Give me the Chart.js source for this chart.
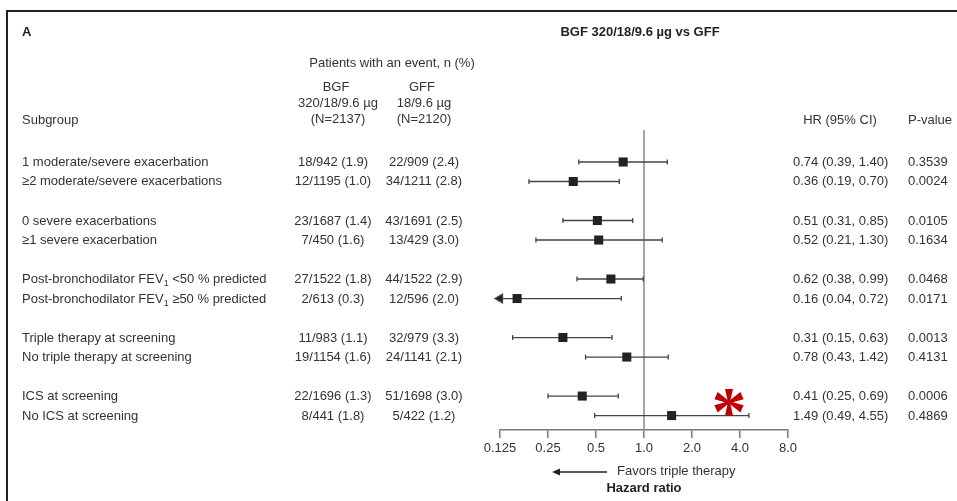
<!DOCTYPE html>
<html>
<head>
<meta charset="utf-8">
<script src="https://cdn.jsdelivr.net/npm/chart.js@4.4.0/dist/chart.umd.min.js"></script>
<style>
body { margin: 0; background: #fff; }
#wrap { position: relative; width: 957px; height: 501px; overflow: hidden; font-family: "Liberation Sans", Arial, sans-serif; font-size: 13px; color: #333; }
#frame { position: absolute; left: 6px; top: 10px; width: 960px; height: 500px; border-top: 2px solid #222; border-left: 2px solid #222; }
canvas { position: absolute; left: 0; top: 0; }
.t { position: absolute; white-space: nowrap; line-height: 16px; }
.c { transform: translateX(-50%); }
.b { font-weight: bold; color: #222; }
sub { font-size: 9px; vertical-align: -3px; line-height: 0; }
#star { position: absolute; font-family: "Liberation Serif", serif; font-weight: bold; font-size: 70px; line-height: 70px; color: #c00000; transform: translateX(-50%); }
</style>
</head>
<body>
<div id="wrap">
  <div id="frame"></div>
  <canvas id="myChart" width="957" height="501"></canvas>
</div>
<script>
const subgroups = [
    "1 moderate/severe exacerbation",
    "≥2 moderate/severe exacerbations",
    "0 severe exacerbations",
    "≥1 severe exacerbation",
    "Post-bronchodilator FEV<sub>1</sub> &lt;50 % predicted",
    "Post-bronchodilator FEV<sub>1</sub> ≥50 % predicted",
    "Triple therapy at screening",
    "No triple therapy at screening",
    "ICS at screening",
    "No ICS at screening"
];
const bgfEvents = ["18/942 (1.9)", "12/1195 (1.0)", "23/1687 (1.4)", "7/450 (1.6)", "27/1522 (1.8)",
    "2/613 (0.3)", "11/983 (1.1)", "19/1154 (1.6)", "22/1696 (1.3)", "8/441 (1.8)"];
const gffEvents = ["22/909 (2.4)", "34/1211 (2.8)", "43/1691 (2.5)", "13/429 (3.0)", "44/1522 (2.9)",
    "12/596 (2.0)", "32/979 (3.3)", "24/1141 (2.1)", "51/1698 (3.0)", "5/422 (1.2)"];
const hazardRatios = [0.74, 0.36, 0.51, 0.52, 0.62, 0.16, 0.31, 0.78, 0.41, 1.49];
const ciLower = [0.39, 0.19, 0.31, 0.21, 0.38, 0.04, 0.15, 0.43, 0.25, 0.49];
const ciUpper = [1.40, 0.70, 0.85, 1.30, 0.99, 0.72, 0.63, 1.42, 0.69, 4.55];
const pValues = ["0.3539", "0.0024", "0.0105", "0.1634", "0.0468", "0.0171", "0.0013", "0.4131", "0.0006", "0.4869"];
const tickValues = [0.125, 0.25, 0.5, 1, 2, 4, 8];
const tickLabels = ["0.125", "0.25", "0.5", "1.0", "2.0", "4.0", "8.0"];

const xMin = 0.125, xMax = 8;
const yMin = -1.64, yMax = 13.74;
// rows come in pairs with an empty row between groups
const rowY = subgroups.map((s, i) => i + Math.floor(i / 2));

const wrap = document.getElementById("wrap");

function place(html, x, y, cls){
    let d = document.createElement("div");
    d.className = "t " + (cls || "");
    d.innerHTML = html;
    d.style.left = x + "px";
    d.style.top = (y - 8) + "px";
    wrap.appendChild(d);
}

let datasets = [];

// reference line at HR = 1
datasets.push({
    data: [{x: 1, y: yMin}, {x: 1, y: yMax}],
    showLine: true,
    borderColor: "#888",
    borderWidth: 1.5,
    pointRadius: 0,
    order: 3
});

for(let i = 0; i < hazardRatios.length; i++){
    let clipped = ciLower[i] < xMin;
    datasets.push({
        data: [{x: Math.max(ciLower[i], xMin), y: rowY[i]}, {x: Math.min(ciUpper[i], xMax), y: rowY[i]}],
        showLine: true,
        borderColor: "#444",
        borderWidth: 1.3,
        pointStyle: [clipped ? "triangle" : "line", "line"],
        pointRotation: [clipped ? -90 : 90, 90],
        pointRadius: [clipped ? 5 : 2.5, 2.5],
        pointBorderColor: "#444",
        pointBackgroundColor: "#222",
        pointBorderWidth: 1.3,
        clip: false,
        order: 2
    });
}

datasets.push({
    data: hazardRatios.map((v, i) => ({x: v, y: rowY[i]})),
    pointStyle: "rect",
    pointRadius: 6.4,
    backgroundColor: "#222",
    borderWidth: 0,
    order: 0
});

// arrow under the axis
const arrowPlugin = {
    id: "arrow",
    afterDraw(chart){
        let ctx = chart.ctx;
        let x0 = chart.scales.x.getPixelForValue(1) - 92;
        let x1 = x0 + 55;
        let y = 472;
        ctx.save();
        ctx.strokeStyle = "#222";
        ctx.fillStyle = "#222";
        ctx.lineWidth = 1.6;
        ctx.beginPath();
        ctx.moveTo(x0 + 6, y);
        ctx.lineTo(x1, y);
        ctx.stroke();
        ctx.beginPath();
        ctx.moveTo(x0, y);
        ctx.lineTo(x0 + 8, y - 3.5);
        ctx.lineTo(x0 + 8, y + 3.5);
        ctx.closePath();
        ctx.fill();
        ctx.restore();
    }
};

const chart = new Chart(document.getElementById("myChart"), {
    type: "scatter",
    data: { datasets: datasets },
    options: {
        responsive: false,
        animation: false,
        devicePixelRatio: 1,
        events: [],
        layout: { padding: { left: 500, right: 169, top: 130, bottom: 37 } },
        plugins: { legend: { display: false }, tooltip: { enabled: false } },
        scales: {
            x: {
                type: "logarithmic",
                min: xMin,
                max: xMax,
                position: "bottom",
                afterBuildTicks: s => { s.ticks = tickValues.map(v => ({value: v})); },
                afterFit: s => { s.height = 34; },
                ticks: {
                    callback: v => tickLabels[tickValues.indexOf(v)],
                    font: { family: "Liberation Sans", size: 13 },
                    color: "#333",
                    maxRotation: 0,
                    autoSkip: false,
                    padding: 3
                },
                grid: { drawOnChartArea: false, drawTicks: true, tickLength: 8, color: "#777", lineWidth: 1.5 },
                border: { display: true, color: "#777", width: 1.5 }
            },
            y: { type: "linear", min: yMin, max: yMax, reverse: true, display: false }
        }
    },
    plugins: [arrowPlugin]
});

// header text
place("A", 22, 32, "b");
place("BGF 320/18/9.6 µg vs GFF", 640, 32, "b c");
place("Patients with an event, n (%)", 392, 63, "c");
place("BGF", 336, 87, "c");
place("320/18/9.6 µg", 338, 103, "c");
place("(N=2137)", 338, 119, "c");
place("GFF", 422, 87, "c");
place("18/9.6 µg", 424, 103, "c");
place("(N=2120)", 424, 119, "c");
place("Subgroup", 22, 120);
place("HR (95% CI)", 840, 120, "c");
place("P-value", 908, 120);

// table rows, aligned to the chart's y scale
for(let i = 0; i < subgroups.length; i++){
    let y = chart.scales.y.getPixelForValue(rowY[i]);
    place(subgroups[i], 22, y);
    place(bgfEvents[i], 333, y, "c");
    place(gffEvents[i], 424, y, "c");
    place(hazardRatios[i].toFixed(2) + " (" + ciLower[i].toFixed(2) + ", " + ciUpper[i].toFixed(2) + ")", 793, y);
    place(pValues[i], 908, y);
}

let xs = chart.scales.x;
place("Favors triple therapy", xs.getPixelForValue(1) - 27, 471);
place("Hazard ratio", xs.getPixelForValue(1), 488, "b c");

let star = document.createElement("div");
star.id = "star";
star.textContent = "*";
star.style.left = "729px";
star.style.top = "377px";
wrap.appendChild(star);
</script>
</body>
</html>
